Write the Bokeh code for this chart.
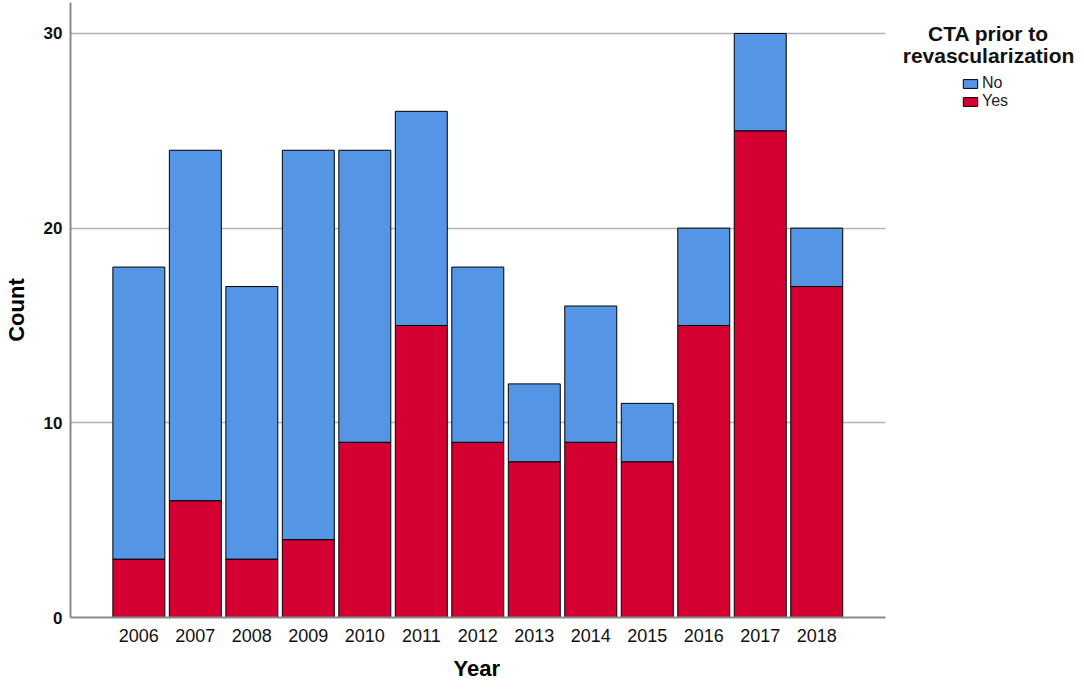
from bokeh.plotting import figure
from bokeh.models import Legend, LegendItem, Label, FixedTicker, Range1d, Title
from bokeh.embed import file_html
from bokeh.resources import INLINE

years = ["2006", "2007", "2008", "2009", "2010", "2011", "2012",
         "2013", "2014", "2015", "2016", "2017", "2018"]
yes_counts = [3, 6, 3, 4, 9, 15, 9, 8, 9, 8, 15, 25, 17]
no_counts = [15, 18, 14, 20, 15, 11, 9, 4, 7, 3, 5, 5, 3]
y_ticks = [0, 10, 20, 30]
series = ["Yes", "No"]
colors = ["#D50032", "#5595E5"]
legend_title = ["CTA prior to", "revascularization"]

FONT = "Liberation Sans"

pos = list(range(len(years)))
pad = 0.71
x_lo = pos[0] - 0.5 - pad
x_hi_axis = pos[-1] + 0.5 + pad

p = figure(width=1084, height=689, output_backend="svg", toolbar_location=None,
           x_range=Range1d(x_lo, x_lo + 17.95), y_range=Range1d(0, 31.59))
p.min_border_left = 70
p.min_border_right = 0
p.min_border_top = 2
p.min_border_bottom = 72
p.outline_line_color = None

data = {"x": pos, "Yes": yes_counts, "No": no_counts}
rs = p.vbar_stack(series, x="x", width=0.92, source=data,
                  fill_color=colors, line_color="black", line_width=1)

p.yaxis.ticker = FixedTicker(ticks=y_ticks)
p.xaxis.ticker = FixedTicker(ticks=pos)
p.xaxis.major_label_overrides = {i: y for i, y in zip(pos, years)}
p.xaxis.bounds = (x_lo, x_hi_axis)
p.yaxis.axis_label = "Count"
for ax in (p.xaxis[0], p.yaxis[0]):
    ax.axis_line_color = "#8A8A8A"
    ax.axis_line_width = 2
    ax.major_tick_line_color = None
    ax.minor_tick_line_color = None
    ax.major_tick_out = 0
    ax.major_tick_in = 0
    ax.axis_label_text_font = FONT
    ax.axis_label_text_font_style = "bold"
    ax.axis_label_text_font_size = "22px"
    ax.axis_label_text_color = "black"
    ax.major_label_text_font = FONT
    ax.major_label_text_color = "#111111"
p.yaxis.major_label_text_font_size = "17px"
p.xaxis.major_label_text_font_size = "18px"
p.yaxis.major_label_text_font_style = "bold"
p.yaxis.major_label_standoff = 8
p.yaxis.axis_label_standoff = 12
p.xaxis.major_label_standoff = 11

# x-axis title centred under the bars (the frame extends to the right for the legend)
year_title = Title(text="Year", align="left", offset=383, standoff=18,
                   text_font=FONT, text_font_style="bold",
                   text_font_size="22px", text_color="black")
p.add_layout(year_title, "below")

p.xgrid.grid_line_color = None
p.ygrid.ticker = FixedTicker(ticks=[10, 20, 30])
p.ygrid.cross_bounds = (x_lo, x_hi_axis)
p.ygrid.grid_line_color = "#B4B4B4"
p.ygrid.grid_line_width = 1.5

legend = Legend(items=[LegendItem(label=series[1], renderers=[rs[1]]),
                       LegendItem(label=series[0], renderers=[rs[0]])],
                location=(891, 507))
legend.border_line_color = None
legend.background_fill_alpha = 0
legend.padding = 0
legend.margin = 0
legend.spacing = 0
legend.glyph_width = 18
legend.glyph_height = 11
legend.label_standoff = 3
legend.label_text_font = FONT
legend.label_text_font_size = "16px"
legend.label_text_color = "#222222"
legend.label_height = 16
p.add_layout(legend, "center")

for txt, yy in zip(legend_title, (584, 562)):
    p.add_layout(Label(x=918, y=yy, x_units="screen", y_units="screen", text=txt,
                       text_align="center", text_baseline="alphabetic",
                       text_font=FONT, text_font_style="bold",
                       text_font_size="21px", text_color="#111111"))

open("out.html", "w").write(file_html(p, INLINE))
